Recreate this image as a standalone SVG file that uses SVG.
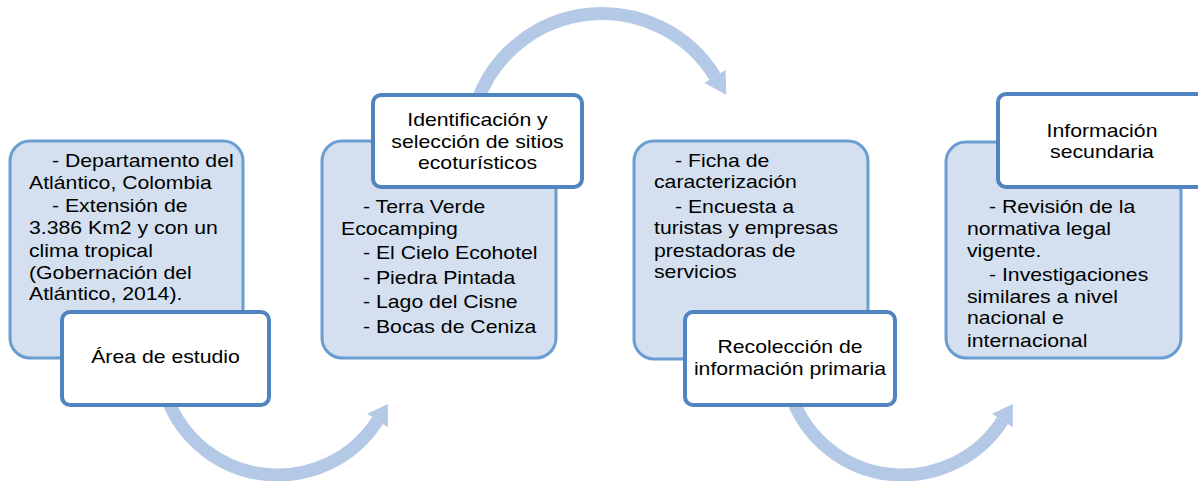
<svg xmlns="http://www.w3.org/2000/svg" width="1198" height="481" viewBox="0 0 1198 481">
<style>
.bg{fill:#ffffff}
.arc{fill:none;stroke:#b4c9e6;stroke-width:13}
.head{fill:#b4c9e6}
.blue{fill:#d4e0f0;stroke:#6a9ed2;stroke-width:3}
.white{fill:#ffffff;stroke:#5084c0;stroke-width:4}
.t{font-family:"Liberation Sans",Arial,sans-serif;font-size:18px;fill:#000000}
.c{text-anchor:middle}
</style>
<rect class="bg" x="0" y="0" width="1198" height="481"/>
<g id="connectors">
  <path class="arc" d="M 166.8 397.2 A 118.2 118.2 0 0 0 377.5 420.5"/>
  <polygon class="head" points="367.1,413.8 387.9,427.2 387.9,404.1"/>
  <path class="arc" d="M 477.5 100.8 A 132.6 132.6 0 0 1 715 76.5"/>
  <polygon class="head" points="704.4,83.0 725.6,70.0 726.3,94.8"/>
  <path class="arc" d="M 791.8 397.2 A 118.2 118.2 0 0 0 1002.5 420.5"/>
  <polygon class="head" points="992.1,413.8 1012.9,427.2 1012.9,404.1"/>
</g>
<g id="node1">
  <rect class="blue" x="10" y="141" width="233" height="217" rx="20"/>
  <text class="t" transform="matrix(1.18 0 0 1 52 166.5)">- Departamento del</text>
  <text class="t" transform="matrix(1.18 0 0 1 29 188.5)">Atlántico, Colombia</text>
  <text class="t" transform="matrix(1.18 0 0 1 52 211.5)">- Extensión de</text>
  <text class="t" transform="matrix(1.18 0 0 1 29 233.5)">3.386 Km2 y con un</text>
  <text class="t" transform="matrix(1.18 0 0 1 29 256.5)">clima tropical</text>
  <text class="t" transform="matrix(1.18 0 0 1 29 278.5)">(Gobernación del</text>
  <text class="t" transform="matrix(1.18 0 0 1 29 300)">Atlántico, 2014).</text>
</g>
<g id="label1">
  <rect class="white" x="62" y="312" width="207" height="93" rx="8"/>
  <text class="t c" transform="matrix(1.18 0 0 1 165.5 363)">Área de estudio</text>
</g>
<g id="node2">
  <rect class="blue" x="322" y="141" width="234" height="217" rx="20"/>
  <text class="t" transform="matrix(1.18 0 0 1 363 213)">- Terra Verde</text>
  <text class="t" transform="matrix(1.18 0 0 1 341 234.5)">Ecocamping</text>
  <text class="t" transform="matrix(1.18 0 0 1 363 259)">- El Cielo Ecohotel</text>
  <text class="t" transform="matrix(1.18 0 0 1 363 284)">- Piedra Pintada</text>
  <text class="t" transform="matrix(1.18 0 0 1 363 308.3)">- Lago del Cisne</text>
  <text class="t" transform="matrix(1.18 0 0 1 363 332.7)">- Bocas de Ceniza</text>
</g>
<g id="label2">
  <rect class="white" x="373" y="95" width="209" height="92" rx="8"/>
  <text class="t c" transform="matrix(1.18 0 0 1 477.5 126)">Identificación y</text>
  <text class="t c" transform="matrix(1.18 0 0 1 477.5 147.5)">selección de sitios</text>
  <text class="t c" transform="matrix(1.18 0 0 1 477.5 169)">ecoturísticos</text>
</g>
<g id="node3">
  <rect class="blue" x="634" y="141" width="234" height="218" rx="20"/>
  <text class="t" transform="matrix(1.18 0 0 1 675 166.7)">- Ficha de</text>
  <text class="t" transform="matrix(1.18 0 0 1 654 188.3)">caracterización</text>
  <text class="t" transform="matrix(1.18 0 0 1 675 212.7)">- Encuesta a</text>
  <text class="t" transform="matrix(1.18 0 0 1 654 234)">turistas y empresas</text>
  <text class="t" transform="matrix(1.18 0 0 1 654 256.7)">prestadoras de</text>
  <text class="t" transform="matrix(1.18 0 0 1 654 278.3)">servicios</text>
</g>
<g id="label3">
  <rect class="white" x="685" y="312" width="210" height="93" rx="8"/>
  <text class="t c" transform="matrix(1.18 0 0 1 790 353)">Recolección de</text>
  <text class="t c" transform="matrix(1.18 0 0 1 790 375)">información primaria</text>
</g>
<g id="node4">
  <rect class="blue" x="946" y="142" width="235" height="216" rx="20"/>
  <text class="t" transform="matrix(1.18 0 0 1 989 212.7)">- Revisión de la</text>
  <text class="t" transform="matrix(1.18 0 0 1 967 235)">normativa legal</text>
  <text class="t" transform="matrix(1.18 0 0 1 967 256.7)">vigente.</text>
  <text class="t" transform="matrix(1.18 0 0 1 989 281)">- Investigaciones</text>
  <text class="t" transform="matrix(1.18 0 0 1 967 302.7)">similares a nivel</text>
  <text class="t" transform="matrix(1.18 0 0 1 967 324.3)">nacional e</text>
  <text class="t" transform="matrix(1.18 0 0 1 967 346.7)">internacional</text>
</g>
<g id="label4">
  <rect class="white" x="998" y="94" width="215" height="93" rx="8"/>
  <text class="t c" transform="matrix(1.18 0 0 1 1102 137)">Información</text>
  <text class="t c" transform="matrix(1.18 0 0 1 1102 158)">secundaria</text>
</g>
</svg>
